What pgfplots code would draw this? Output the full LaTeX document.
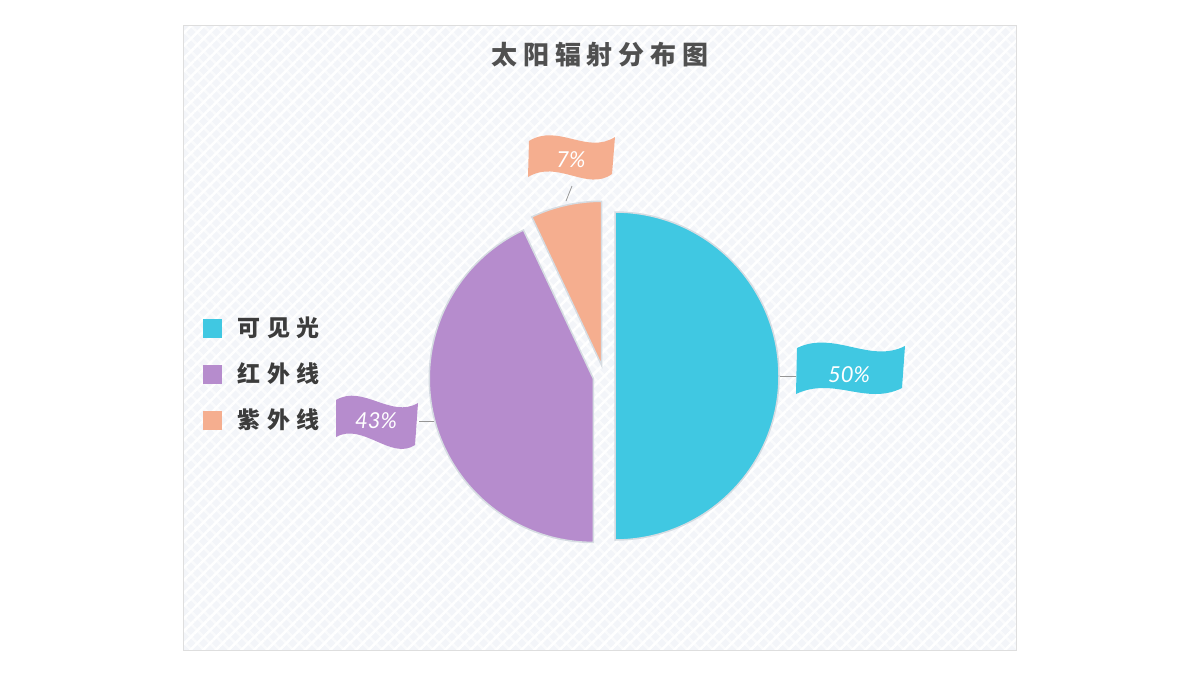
\documentclass[border=0pt]{standalone}
\usepackage{fontspec}
\usepackage{pgfplots}
\pgfplotsset{compat=1.18}
\usepackage{pgfplotstable}
\usetikzlibrary{calc,patterns.meta}
\setmainfont{Lato}
\newfontfamily\cjktitle[LetterSpace=22]{Noto Sans CJK SC}
\newfontfamily\cjkleg[LetterSpace=30]{Noto Sans CJK SC}

\definecolor{cBlue}{RGB}{64,200,226}
\definecolor{cPurple}{RGB}{182,140,205}
\definecolor{cOrange}{RGB}{245,174,143}
\definecolor{edge}{RGB}{214,220,226}
\definecolor{bgfill}{RGB}{243,245,249}
\definecolor{frame}{RGB}{222,222,222}
\definecolor{leader}{RGB}{150,150,150}
\definecolor{txt}{RGB}{60,60,60}
\definecolor{titletxt}{RGB}{80,80,80}

\pgfplotstableread{
label value
visible 50
infrared 43
ultraviolet 7
}\piedata
\pgfplotstablegetelem{0}{value}\of\piedata \edef\va{\pgfplotsretval}
\pgfplotstablegetelem{1}{value}\of\piedata \edef\vb{\pgfplotsretval}
\pgfplotstablegetelem{2}{value}\of\piedata \edef\vc{\pgfplotsretval}
\pgfmathsetmacro\tot{\va+\vb+\vc}
\pgfmathsetmacro\fa{\va/\tot}
\pgfmathsetmacro\fb{\vb/\tot}
\pgfmathsetmacro\fc{\vc/\tot}
\pgfmathsetmacro\aA{90}
\pgfmathsetmacro\aB{\aA-360*\fa}
\pgfmathsetmacro\aC{\aB-360*\fb}
\pgfmathsetmacro\aD{\aC-360*\fc}
\pgfmathsetmacro\mA{(\aA+\aB)/2}
\pgfmathsetmacro\mB{(\aB+\aC)/2}
\pgfmathsetmacro\mC{(\aC+\aD)/2}

\begin{document}
\begin{tikzpicture}
\begin{axis}[
  width=1200pt, height=675pt, scale only axis,
  xmin=0, xmax=1200, ymin=0, ymax=675, y dir=reverse,
  hide axis, clip=false,
]
% page background
\fill[white] (0,0) rectangle (1200,675);
% plot area
\fill[bgfill] (183,25) rectangle (1016,650);
\fill[pattern={Lines[angle=45,distance=9pt,line width=2.5pt]}, pattern color=white] (183,25) rectangle (1016,650);
\fill[pattern={Lines[angle=-45,distance=9pt,line width=2.5pt]}, pattern color=white, opacity=0.6] (183,25) rectangle (1016,650);
\draw[frame, line width=0.8pt] (183,25) rectangle (1016,650);

% title
\node[font={\fontsize{26pt}{26pt}\cjktitle\bfseries}, text=titletxt] at (600,55) {太阳辐射分布图};

% pie slices
\path (604,376) coordinate (O);
\filldraw[fill=cBlue, draw=edge, line width=1.5pt] ($(O)+(\mA:11pt)$) -- ++(\aA:164pt) arc[start angle=\aA, end angle=\aB, radius=164pt] -- cycle;
\filldraw[fill=cPurple, draw=edge, line width=1.5pt] ($(O)+(\mB:11pt)$) -- ++(\aB:164pt) arc[start angle=\aB, end angle=\aC, radius=164pt] -- cycle;
\filldraw[fill=cOrange, draw=edge, line width=1.5pt] ($(O)+(\mC:11pt)$) -- ++(\aC:164pt) arc[start angle=\aC, end angle=\aD, radius=164pt] -- cycle;

% leader lines
\draw[leader, line width=0.8pt] (780,376) -- (796,376);
\draw[leader, line width=0.8pt] (419,421) -- (434,421);
\draw[leader, line width=0.8pt] (572,186) -- (566,201);

% flags
\fill[cBlue] (797,348) .. controls (834,330) and (870,364) .. (905,346) -- (902,388) .. controls (866,406) and (834,376) .. (796,394) -- cycle;
\fill[cPurple] (336,400) .. controls (363,384) and (391,419) .. (418,403) -- (415,445) .. controls (391,461) and (363,422) .. (336,437) -- cycle;
\fill[cOrange] (529,141) .. controls (558,123) and (587,155) .. (615,137) -- (612,174) .. controls (587,192) and (558,159) .. (528,177) -- cycle;

% value labels
\node[text=white, font={\fontsize{22pt}{22pt}\selectfont\itshape}] at (849,375) {50\%};
\node[text=white, font={\fontsize{22pt}{22pt}\selectfont\itshape}] at (376,421) {43\%};
\node[text=white, font={\fontsize{22pt}{22pt}\selectfont\itshape}] at (571,160) {7\%};

% legend
\fill[cBlue] (203,319) rectangle (222,338);
\fill[cPurple] (203,365) rectangle (222,384);
\fill[cOrange] (203,411) rectangle (222,430);
\node[anchor=west, inner sep=0pt, text=txt, font={\fontsize{23pt}{23pt}\cjkleg\bfseries}] at (237,328) {可见光};
\node[anchor=west, inner sep=0pt, text=txt, font={\fontsize{23pt}{23pt}\cjkleg\bfseries}] at (237,374) {红外线};
\node[anchor=west, inner sep=0pt, text=txt, font={\fontsize{23pt}{23pt}\cjkleg\bfseries}] at (237,420) {紫外线};
\end{axis}
\end{tikzpicture}
\end{document}
